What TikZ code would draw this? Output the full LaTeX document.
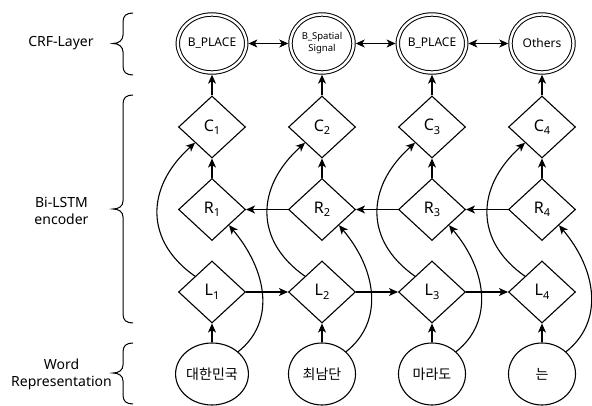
\documentclass[tikz,border=0pt]{standalone}
\usepackage{fontspec}
\setmainfont{Noto Sans}
\newfontfamily\krfont{Noto Sans CJK KR}
\usetikzlibrary{shapes.geometric,arrows.meta}

% letter with a lowered index, as used inside the LSTM cells
\newcommand{\cellname}[2]{{\fontsize{16}{16}\selectfont #1}{\fontsize{11}{11}\selectfont\raisebox{-3.5pt}{#2}}}

\begin{document}
\begin{tikzpicture}[x=1pt,y=-1pt,line width=1.1pt,
  cell/.style={diamond,draw,minimum width=67pt,minimum height=62pt,inner sep=0pt},
  tag/.style={ellipse,draw,double,double distance=2.4pt,line width=1pt,
              minimum width=63pt,minimum height=58pt,inner sep=0pt,outer sep=2.2pt,
              font=\fontsize{12}{12}\selectfont,align=center},
  word/.style={ellipse,draw,minimum width=67pt,minimum height=62pt,inner sep=0pt,
               font=\krfont\fontsize{14}{14}\selectfont},
  side/.style={align=center,font=\fontsize{14}{17}\selectfont},
  tip/.tip={Stealth[length=9pt,width=8pt,inset=2.5pt]},
  arr/.style={-tip},
  biarr/.style={tip-tip},
  brace/.style={line width=1pt}]
\useasboundingbox (0,0) rectangle (592,406);

% CRF output tags
\node[tag] (T1) at (212,43.5) {B\_PLACE};
\node[tag,font=\fontsize{9.5}{12}\selectfont] (T2) at (322,43.5) {B\_Spatial\\Signal};
\node[tag] (T3) at (432,43.5) {B\_PLACE};
\node[tag] (T4) at (542,43.5) {Others};

% input words
\node[word] (W1) at (212,374) {대한민국};
\node[word] (W2) at (322,374) {최남단};
\node[word] (W3) at (432,374) {마라도};
\node[word] (W4) at (542,374) {는};

% Bi-LSTM cells
\foreach \i/\x in {1/212,2/322,3/432,4/542} {
  \node[cell] (C\i) at (\x,127) {\cellname{C}{\i}};
  \node[cell] (R\i) at (\x,209.5) {\cellname{R}{\i}};
  \node[cell] (L\i) at (\x,292) {\cellname{L}{\i}};
}

% vertical flow and skip connections
\foreach \i in {1,...,4} {
  \draw[arr] (C\i) -- (T\i);
  \draw[arr] (R\i) -- (C\i);
  \draw[arr] (W\i) -- (L\i);
  \draw[arr] (L\i.north west) .. controls +(-50,-35) and +(-50,45) .. (C\i.south west);
  \draw[arr] (W\i.north east) .. controls +(38,-30) and +(38,45) .. (R\i.south east);
}

% recurrent connections
\draw[arr] (L1) -- (L2);
\draw[arr] (L2) -- (L3);
\draw[arr] (L3) -- (L4);
\draw[arr] (R4) -- (R3);
\draw[arr] (R3) -- (R2);
\draw[arr] (R2) -- (R1);

% CRF transitions
\draw[biarr] (T1) -- (T2);
\draw[biarr] (T2) -- (T3);
\draw[biarr] (T3) -- (T4);

% layer braces
\draw[brace] (133,13) .. controls (126,13) and (123,16) .. (123,22) -- (123,35)
  .. controls (123,40) and (119,43.5) .. (113,43.5)
  .. controls (119,43.5) and (123,47) .. (123,52) -- (123,66)
  .. controls (123,72) and (126,75) .. (133,75);
\draw[brace] (133,95) .. controls (126,95) and (123,98) .. (123,104) -- (123,201)
  .. controls (123,206) and (119,209) .. (113,209)
  .. controls (119,209) and (123,212) .. (123,217) -- (123,314)
  .. controls (123,320) and (126,323) .. (133,323);
\draw[brace] (133,343) .. controls (126,343) and (123,346) .. (123,352) -- (123,365)
  .. controls (123,370) and (119,373) .. (113,373)
  .. controls (119,373) and (123,376) .. (123,381) -- (123,395)
  .. controls (123,401) and (126,404) .. (133,404);

% layer labels
\node[side] (lcrf) at (61,43.5) {CRF-Layer};
\node[side] (lenc) at (61.5,211) {Bi-LSTM\\encoder};
\node[side] (lwrd) at (61.5,374.5) {Word\\Representation};
\end{tikzpicture}
\end{document}
